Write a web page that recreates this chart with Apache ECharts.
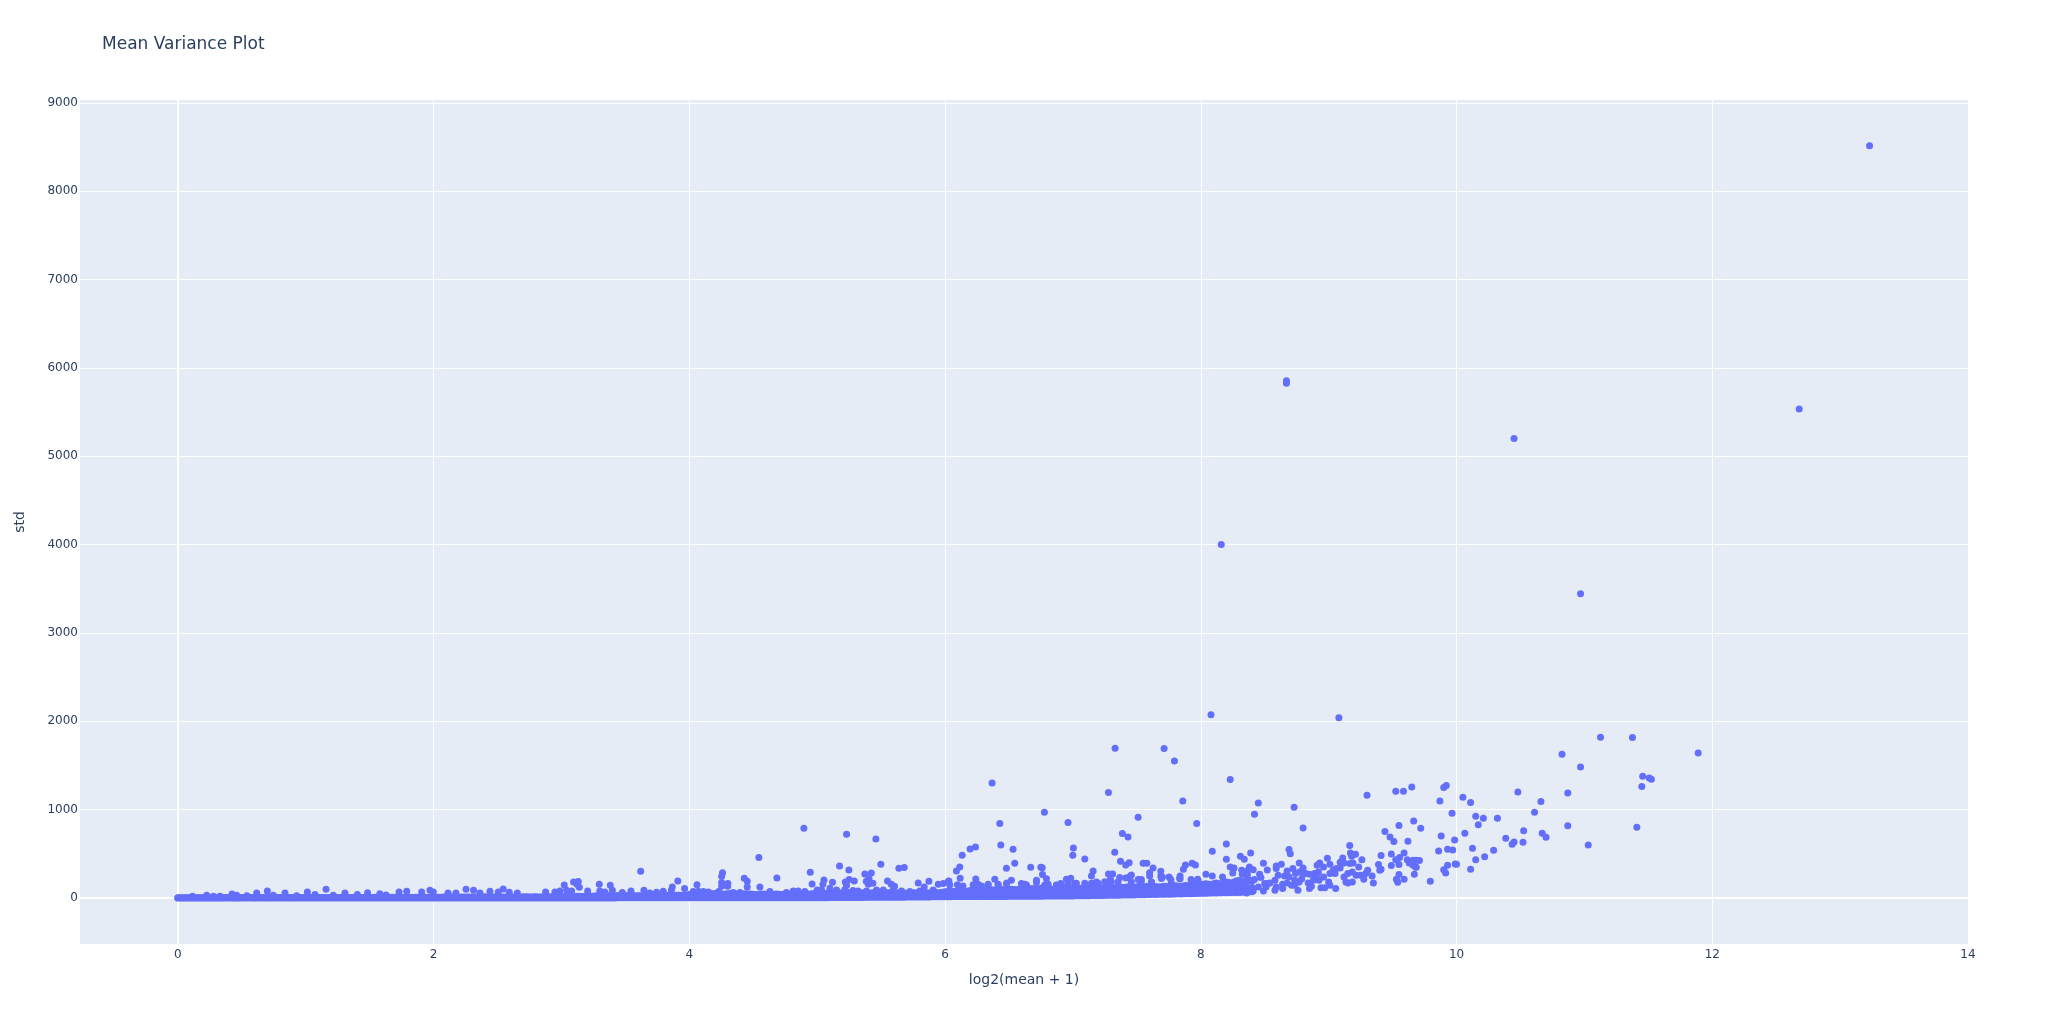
<!DOCTYPE html>
<html>
<head>
<meta charset="utf-8">
<style>html,body{margin:0;padding:0;background:#fff}#c{width:2048px;height:1024px}</style>
<script src="https://cdn.jsdelivr.net/npm/echarts@6/dist/echarts.min.js"></script>
</head>
<body>
<div id="c"></div>
<script>
const chartTitle = "Mean Variance Plot";
const xName = "log2(mean + 1)";
const yName = "std";
const xTicks = [0,2,4,6,8,10,12,14];
const yTicks = [0,1000,2000,3000,4000,5000,6000,7000,8000,9000];

// Dense band: mean positions and read-off lower / upper edge of the cloud
const bandX = [
0,0.04,0.08,0.12,0.16,0.2,0.24,0.28,0.32,0.36,0.4,0.44,0.48,0.52,0.56,0.6,0.64,0.68,0.72,0.76,0.8,0.84,0.88,0.92,0.96,
1,1.04,1.08,1.12,1.16,1.2,1.24,1.28,1.32,1.36,1.4,1.44,1.48,1.52,1.56,1.6,1.64,1.68,1.72,1.76,1.8,1.84,1.88,1.92,1.96,
2,2.04,2.08,2.12,2.16,2.2,2.24,2.28,2.32,2.36,2.4,2.44,2.48,2.52,2.56,2.6,2.64,2.68,2.72,2.76,2.8,2.84,2.88,2.92,2.96,
3,3.04,3.08,3.12,3.16,3.2,3.24,3.28,3.32,3.36,3.4,3.44,3.48,3.52,3.56,3.6,3.64,3.68,3.72,3.76,3.8,3.84,3.88,3.92,3.96,
4,4.04,4.08,4.12,4.16,4.2,4.24,4.28,4.32,4.36,4.4,4.44,4.48,4.52,4.56,4.6,4.64,4.68,4.72,4.76,4.8,4.84,4.88,4.92,4.96,
5,5.04,5.08,5.12,5.16,5.2,5.24,5.28,5.32,5.36,5.4,5.44,5.48,5.52,5.56,5.6,5.64,5.68,5.72,5.76,5.8,5.84,5.88,5.92,5.96,
6,6.04,6.08,6.12,6.16,6.2,6.24,6.28,6.32,6.36,6.4,6.44,6.48,6.52,6.56,6.6,6.64,6.68,6.72,6.76,6.8,6.84,6.88,6.92,6.96,
7,7.04,7.08,7.12,7.16,7.2,7.24,7.28,7.32,7.36,7.4,7.44,7.48,7.52,7.56,7.6,7.64,7.68,7.72,7.76,7.8,7.84,7.88,7.92,7.96,
8,8.04,8.08,8.12,8.16,8.2,8.24,8.28,8.32,8.36,8.4
];
const bandTop = [
2,2,3,3,3,4,4,3,4,4,5,4,4,5,5,4,5,5,4,5,5,5,4,5,5,
5,5,6,5,5,6,5,6,6,5,6,6,5,6,7,6,6,7,6,7,7,6,7,8,7,
9,8,10,9,11,9,10,12,10,11,13,11,12,10,12,13,11,12,14,12,13,11,13,14,12,
15,17,16,20,18,22,20,24,21,25,23,27,24,28,26,24,28,26,30,27,31,29,27,32,30,
40,46,42,50,45,52,48,44,50,46,42,48,44,40,46,42,38,44,40,42,45,41,46,43,48,
52,48,56,50,58,54,60,55,62,57,54,60,56,62,58,54,60,56,52,58,54,60,56,62,58,
70,76,72,80,75,84,78,88,82,92,86,96,90,100,94,104,98,108,102,112,106,100,108,104,110,
106,112,108,116,110,118,114,122,116,124,120,128,122,132,126,136,130,124,134,128,138,132,142,136,146,
150,160,152,170,160,182,170,195,180,205,190
];
const bandLow = [
0,0,0,0,0,0,0,0,0,0,0,0,0,0,0,0,0,0,0,0,0,0,0,0,0,
0,0,0,0,0,0,0,0,0,0,0,0,0,0,0,0,0,0,0,0,0,0,0,0,0,
1,1,1,1,1,1,1,1,1,1,1,1,1,1,1,1,1,1,1,1,1,1,1,1,1,
1,1,1,1,1,1,1,1,1,1,1,2,2,2,2,2,2,2,2,2,2,2,2,2,2,
2,2,2,2,2,2,2,2,3,3,3,3,3,3,3,3,3,3,3,3,3,3,3,3,3,
4,4,4,5,5,5,5,6,6,6,7,7,7,8,8,8,9,9,10,10,11,11,12,13,14,
15,15,16,16,16,16,17,17,17,18,18,18,18,19,19,19,20,20,20,20,21,21,21,22,22,
23,24,25,26,27,28,29,30,31,32,33,34,35,36,37,38,40,41,42,43,44,46,47,49,50,
53,54,55,57,58,60,61,62,64,66,70
];
// Second reading of the same edges, between the positions above
const bandX2 = [
0.02,0.06,0.1,0.14,0.18,0.22,0.26,0.3,0.34,0.38,0.42,0.46,0.5,0.54,0.58,0.62,0.66,0.7,0.74,0.78,0.82,0.86,0.9,0.94,0.98,
1.02,1.06,1.1,1.14,1.18,1.22,1.26,1.3,1.34,1.38,1.42,1.46,1.5,1.54,1.58,1.62,1.66,1.7,1.74,1.78,1.82,1.86,1.9,1.94,1.98,
2.02,2.06,2.1,2.14,2.18,2.22,2.26,2.3,2.34,2.38,2.42,2.46,2.5,2.54,2.58,2.62,2.66,2.7,2.74,2.78,2.82,2.86,2.9,2.94,2.98,
3.02,3.06,3.1,3.14,3.18,3.22,3.26,3.3,3.34,3.38,3.42,3.46,3.5,3.54,3.58,3.62,3.66,3.7,3.74,3.78,3.82,3.86,3.9,3.94,3.98,
4.02,4.06,4.1,4.14,4.18,4.22,4.26,4.3,4.34,4.38,4.42,4.46,4.5,4.54,4.58,4.62,4.66,4.7,4.74,4.78,4.82,4.86,4.9,4.94,4.98,
5.02,5.06,5.1,5.14,5.18,5.22,5.26,5.3,5.34,5.38,5.42,5.46,5.5,5.54,5.58,5.62,5.66,5.7,5.74,5.78,5.82,5.86,5.9,5.94,5.98,
6.02,6.06,6.1,6.14,6.18,6.22,6.26,6.3,6.34,6.38,6.42,6.46,6.5,6.54,6.58,6.62,6.66,6.7,6.74,6.78,6.82,6.86,6.9,6.94,6.98,
7.02,7.06,7.1,7.14,7.18,7.22,7.26,7.3,7.34,7.38,7.42,7.46,7.5,7.54,7.58,7.62,7.66,7.7,7.74,7.78,7.82,7.86,7.9,7.94,7.98,
8.02,8.06,8.1,8.14,8.18,8.22,8.26,8.3,8.34,8.38
];
const bandTop2 = [
2,3,3,3,4,4,4,4,4,5,5,4,5,5,5,5,5,5,5,5,5,5,5,5,5,
5,6,6,5,6,6,6,6,6,6,6,6,6,7,7,6,7,7,7,7,7,7,8,8,8,
9,9,10,10,10,10,11,11,11,12,12,12,11,11,12,12,12,13,13,13,12,12,14,13,14,
16,17,18,19,20,21,22,23,23,24,25,26,26,27,25,26,27,28,29,29,30,28,30,31,35,
43,44,46,48,49,50,46,47,48,44,45,46,42,43,44,40,41,42,41,43,43,44,45,46,50,
50,52,53,54,56,57,58,59,60,56,57,58,59,60,56,57,58,54,55,56,57,58,59,60,64,
73,74,76,78,80,81,83,85,87,89,91,93,95,97,99,101,103,105,107,109,103,104,106,107,108,
109,110,112,113,114,116,118,119,120,122,124,125,127,129,131,133,127,129,131,133,135,137,139,141,148,
155,156,161,165,171,176,182,188,192,198
];
const bandLow2 = [
0,0,0,0,0,0,0,0,0,0,0,0,0,0,0,0,0,0,0,0,0,0,0,0,0,
0,0,0,0,0,0,0,0,0,0,0,0,0,0,0,0,0,0,0,0,0,0,0,0,1,
1,1,1,1,1,1,1,1,1,1,1,1,1,1,1,1,1,1,1,1,1,1,1,1,1,
1,1,1,1,1,1,1,1,1,1,1,2,2,2,2,2,2,2,2,2,2,2,2,2,2,
2,2,2,2,2,2,2,3,3,3,3,3,3,3,3,3,3,3,3,3,3,3,3,3,4,
4,4,5,5,5,5,6,6,6,7,7,7,8,8,8,9,9,10,10,11,11,12,13,14,15,
15,16,16,16,16,17,17,17,18,18,18,18,19,19,19,20,20,20,20,21,21,21,22,22,23,
24,25,26,27,28,29,30,31,32,33,34,35,36,37,39,41,42,43,44,45,47,48,50,52,53,
54,56,58,59,61,62,63,65,68,72
];
const bandMidX = [
6,6.04,6.08,6.12,6.16,6.2,6.24,6.28,6.32,6.36,6.4,6.44,6.48,6.52,6.56,6.6,6.64,6.68,6.72,6.76,6.8,6.84,6.88,6.92,6.96,
7,7.04,7.08,7.12,7.16,7.2,7.24,7.28,7.32,7.36,7.4,7.44,7.48,7.52,7.56,7.6,7.64,7.68,7.72,7.76,7.8,7.84,7.88,7.92,7.96,
8,8.04,8.08,8.12,8.16,8.2,8.24,8.28,8.32,8.36,8.4
];
const bandMid = [
40,44,42,46,44,48,46,50,48,52,50,54,52,56,54,58,56,60,58,62,60,58,62,60,64,
64,68,66,70,68,72,70,74,72,76,78,80,78,84,82,88,86,84,90,88,94,92,98,96,102,
100,106,104,112,108,118,112,124,116,128,120
];

// Separately read points, [log2(mean+1), std]
const bandSilhouette = [
[4.03,72],[4.07,76],[4.11,72],[4.15,68],[4.23,72],[4.344,61],[4.396,61],[4.63,72],[4.76,61],[4.813,80],[4.852,80],[4.904,72],[5,91],[5.034,91],[5.1,110],[5.152,91],[5.217,95],[5.28,84],[5.32,80],[5.386,80],[5.464,91],[5.517,91],[5.595,91],[5.66,80],[5.725,72],[5.803,80],[5.907,91],
[6.037,148],[6.128,129],[6.233,136],[6.285,136],[6.337,148],[6.415,148],[6.48,159],[6.637,148],[6.715,174],[6.78,148],[6.871,148],[6.91,148],[6.962,166],[7.027,166],[7.093,166],[7.145,166],[7.197,166],[7.249,185],[7.3,185],[7.353,185],[7.457,185],[7.535,185],[7.614,178],[7.692,220],[7.77,166],[7.835,220],[7.927,193],[7.979,197]
];
const bumpsLowMean = [
[1.159,98],[0.7,79],[0.617,57],[1.013,68],[0.838,57],[1.307,57],[1.484,60],[1.73,68],[1.79,75],[1.907,68],[1.972,87],[0.424,45],[0.226,30],[0.116,19],[0.747,30],[1.404,38],[1.58,49],[1.628,34],[1.073,38],[1.216,30],[0.93,26],[0.46,30],[0.54,26],[0.278,19],[0.33,19],
[3.62,303],[3.91,193],[3.296,155],[3.022,148],[3.095,182],[3.132,186],[3.121,155],[3.14,121],[3.382,144],[3.867,125],[3.398,88],[3.963,106],[2.254,99],[2.545,103],[2.313,88],[1.998,68],[2.441,76],[2.113,57],[2.175,57],[2.363,57],[2.592,65],[2.876,68],[2.949,68],[2.988,80],[3.04,88],[3.08,80],[3.205,80],[3.3,80],[3.34,68],[3.476,61],[3.544,80],[3.645,88],[3.796,76],[3.86,88],[2.506,68],[2.655,57],[3.744,65],[3.692,57]
];
const pointsMidMean = [
[4.896,789],[5.23,721],[5.459,669],[4.544,457],[5.498,382],[5.175,363],[5.248,317],[4.946,291],[5.373,272],[5.423,284],[5.639,336],[5.681,344],[4.26,287],[4.253,246],[4.685,227],[4.43,223],[5.405,219],[4.453,189],[4.253,174],[5.053,204],[5.12,178],[5.29,193],[5.384,189],[5.436,167],[5.25,208],[5.22,182],[5.045,155],[4.96,159],[5.79,170],[5.874,189],[5.55,193],[5.579,155],[5.605,133],[5.947,155],[5.986,163],[6.027,189],[4.06,151],[4.302,163],[4.3,133],[4.253,133],[4.453,125],[4.552,125],[5.837,125],[5.23,144],[5.4,155]
];
const pointsUpperMean = [
[6.368,1303],[7.33,1695],[7.713,1692],[7.794,1552],[7.278,1193],[7.859,1099],[6.777,971],[6.962,854],[7.51,914],[6.428,842],[7.968,842],[7.387,729],[7.431,691],[6.436,601],[6.238,578],[6.196,555],[6.532,552],[7.004,567],[6.999,484],[6.134,484],[7.327,518],[7.093,442],[6.115,351],[6.545,393],[6.089,306],[6.48,336],[6.67,348],[6.749,348],[6.76,342],[7.372,416],[7.413,374],[7.44,400],[7.549,393],[7.578,393],[7.627,340],[7.88,374],[7.864,325],[7.932,393],[7.958,374],[7.687,302],[7.6,287],[7.6,250],[7.687,250],[7.7,238],[7.752,238],[7.765,208],[7.838,250],[7.838,219],[7.924,208],[7.976,212],[7.158,306],[7.145,250],[7.278,272],[7.311,272],[7.293,212],[7.366,231],[7.413,227],[7.457,261],[7.44,238],[7.51,208],[7.535,208],[7.614,181],[6.762,265],[6.793,219],[6.715,200],[6.519,200],[6.483,170],[6.389,212],[6.24,216],[6.118,223],[6.03,193],[6.097,151],[6.949,212],[6.983,223],[6.905,163],[7.014,163],[7.184,181],[6.597,163],[6.623,155],[6.806,155],[6.259,155],[6.337,155],[6.415,155],[6.871,144],[6.22,151],[6.14,136]
];
const pointsCluster = [
[8.08,2073],[9.08,2039],[8.23,1340],[8.45,1076],[8.42,948],[8.73,1027],[8.8,793],[8.2,612],[8.09,529],[8.2,438],[8.31,472],[8.34,438],[8.39,510],[8.69,548],[8.7,502],[8.49,393],[8.52,317],[8.59,363],[8.63,382],[8.77,397],[8.8,340],[8.99,450],[9.01,382],[8.93,397],[8.91,370],[8.96,351],[9.11,453],[9.09,404],[9.165,593],[9.17,510],[9.21,495],[9.18,472],[9.26,434],[9.19,397],[9.165,389],[9.235,351],[9.305,314],[9.29,276],[9.39,378],[9.41,480],[9.41,325],[9.4,314],
[8.04,268],[8.09,250],[8.17,238],[8.23,351],[8.26,340],[8.25,283],[8.32,314],[8.36,306],[8.38,351],[8.41,321],[8.325,268],[8.365,265],[8.46,268],[8.47,231],[8.305,200],[8.38,200],[8.42,208],[8.5,163],[8.525,163],[8.58,200],[8.605,257],[8.59,333],[8.675,306],[8.655,250],[8.69,238],[8.59,125],[8.64,155],[8.72,333],[8.74,276],[8.77,295],[8.8,276],[8.79,219],[8.735,200],[8.71,144],[8.76,87],[8.85,106],[8.82,276],[8.85,268],[8.89,276],[8.92,295],[8.96,238],[9.01,276],[8.89,219],[8.925,200],[8.94,117],[8.97,117],[9.01,144],[9.055,106],[9,181],[9.035,314],[9.06,333],[9.09,340],[9.12,397],[9.05,276],[9.12,238],[9.15,276],[9.135,181],[9.15,170],[9.185,181],[9.185,295],[9.215,257],[9.25,257],[9.275,212],[9.34,250],[9.35,170],
[8.33,144],[8.37,106],[8.41,80],[8.45,125],[8.49,80],[8.51,125],[8.54,170],[8.58,87],[8.64,106],[8.675,170],[8.735,144],[8.77,181],[8.84,170],[8.88,200],[8.905,238],[8.865,133],[8.305,68],[8.36,57],[8.4,87]
];
const pointsHighMean = [
[9.3,1163],[9.525,1208],[9.585,1208],[9.65,1257],[9.9,1250],[9.92,1273],[9.87,1099],[9.965,959],[9.665,872],[9.55,820],[9.72,789],[9.44,752],[9.48,691],[9.51,638],[9.62,642],[9.88,703],[9.985,657],[9.86,533],[9.93,552],[9.97,544],[9.93,370],[9.99,385],[9.9,321],[9.915,283],[9.795,189],[9.49,499],[9.59,510],[9.555,457],[9.525,434],[9.49,367],[9.55,378],[9.615,434],[9.63,397],[9.66,427],[9.685,427],[9.71,423],[9.66,370],[9.685,348],[9.67,268],[9.55,265],[9.53,212],[9.54,178],[9.59,212],[9.65,408],[9.68,351],
[11.126,1820],[11.376,1816],[10.825,1627],[10.97,1483],[11.456,1378],[11.507,1359],[11.524,1344],[11.449,1261],[10.87,1189],[10.87,819],[11.41,800],[11.03,600],[11.89,1642],
[10.05,1140],[10.11,1080],[10.48,1200],[10.66,1091],[10.61,970],[10.15,925],[10.21,902],[10.32,902],[10.17,830],[10.525,762],[10.065,732],[10.385,676],[10.45,634],[10.435,608],[10.52,630],[10.67,732],[10.7,687],[10.125,562],[10.29,540],[10.22,468],[10.15,434],[10,381],[10.11,325]
];
const pointsTop = [
[13.23,8517],[12.68,5535],[10.45,5202],[10.97,3443],[8.67,5856],[8.67,5826],[8.16,4002]
];

const bandPoints = bandX.map((x,i)=>[x,bandLow[i]])
  .concat(bandX.map((x,i)=>[x,bandTop[i]]))
  .concat(bandX2.map((x,i)=>[x,bandLow2[i]]))
  .concat(bandX2.map((x,i)=>[x,bandTop2[i]]))
  .concat(bandMidX.map((x,i)=>[x,bandMid[i]]));
const allPoints = bandPoints.concat(bandSilhouette,bumpsLowMean,pointsMidMean,pointsUpperMean,pointsCluster,pointsHighMean,pointsTop);

const ink = "#2a3f5f";
const fam = "'DejaVu Sans', Verdana, sans-serif";
const chart = echarts.init(document.getElementById('c'), null, {renderer:'canvas', width:2048, height:1024});
chart.setOption({
  animation:false,
  backgroundColor:'#ffffff',
  textStyle:{fontFamily:fam,color:ink},
  title:{text:chartTitle,left:97,top:31,textStyle:{fontFamily:fam,fontSize:17,fontWeight:'normal',color:ink}},
  grid:{left:80,right:80,top:100,bottom:80,show:true,backgroundColor:'#E5ECF6',borderWidth:0,containLabel:false},
  xAxis:{type:'value',min:-0.765,max:14,name:xName,nameLocation:'middle',nameGap:29,
    nameTextStyle:{fontFamily:fam,fontSize:14,color:ink},
    axisLine:{show:false},axisTick:{show:false,customValues:xTicks},
    axisLabel:{customValues:xTicks,fontFamily:fam,fontSize:12,color:ink,margin:5,formatter:v=>String(v)},
    splitLine:{show:true,lineStyle:{color:'#ffffff',width:1}}},
  yAxis:{type:'value',min:-521,max:9034,name:yName,nameLocation:'middle',nameGap:53,
    nameTextStyle:{fontFamily:fam,fontSize:14,color:ink},
    axisLine:{show:false},axisTick:{show:false,customValues:yTicks},
    axisLabel:{customValues:yTicks,fontFamily:fam,fontSize:12,color:ink,margin:2,padding:[4,0,0,0],formatter:v=>String(v)},
    splitLine:{show:true,lineStyle:{color:'#ffffff',width:1}}},
  series:[
    {type:'scatter',data:[],silent:true,
     markLine:{silent:true,z:1,symbol:'none',animation:false,label:{show:false},emphasis:{disabled:true},
       lineStyle:{color:'#ffffff',width:2,type:'solid'},data:[{xAxis:0},{yAxis:0}]}},
    {type:'scatter',data:allPoints,symbol:'circle',symbolSize:7,z:3,large:false,
     itemStyle:{color:'#636efa',opacity:1,borderWidth:0}}
  ]
});
</script>
</body>
</html>
